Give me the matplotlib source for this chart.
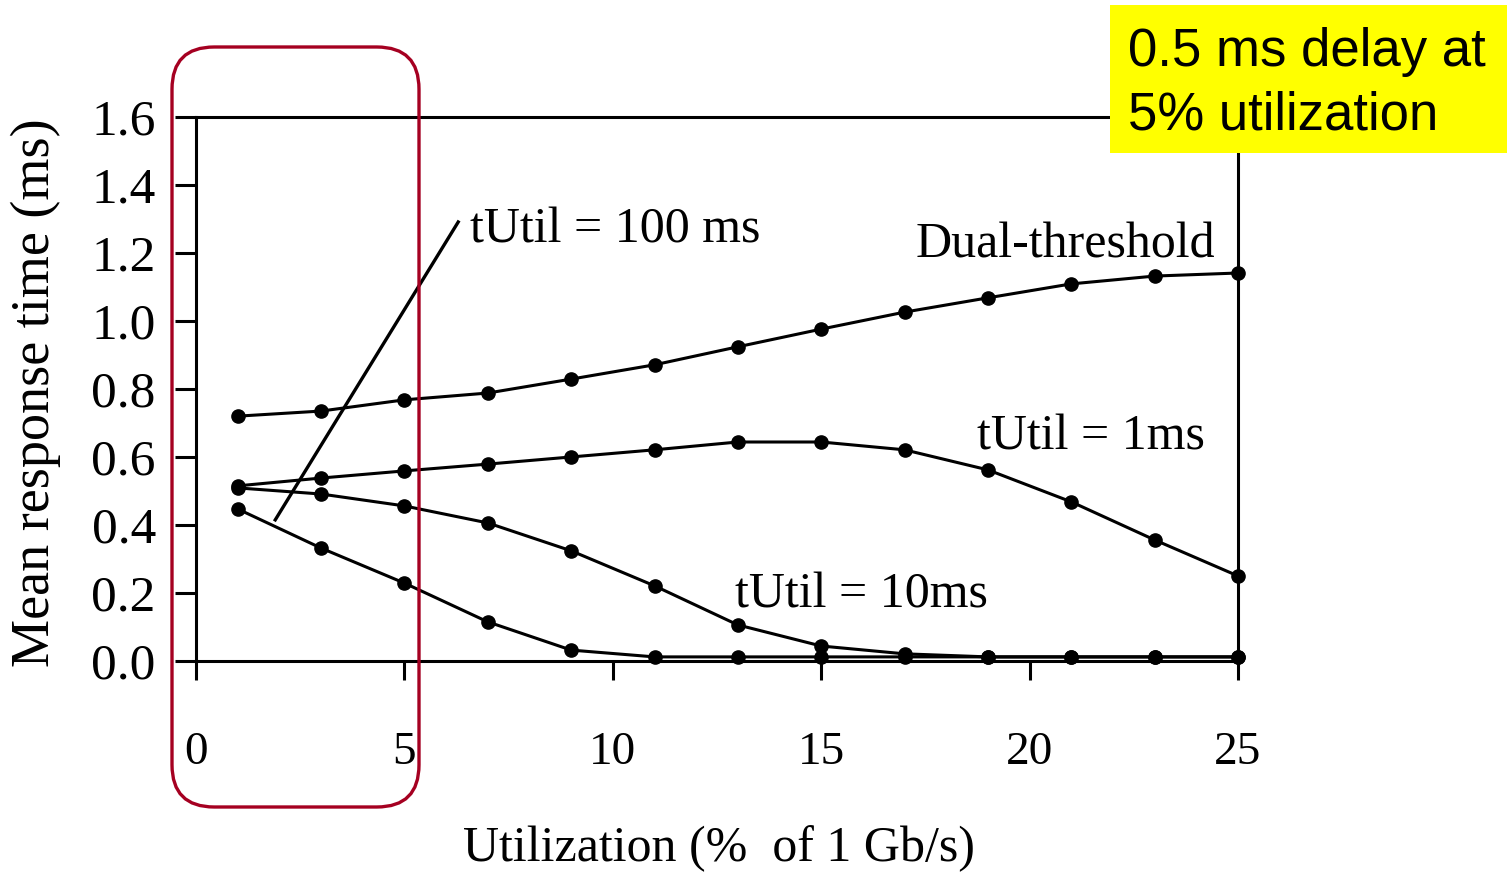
import matplotlib
matplotlib.use("Agg")
import matplotlib.pyplot as plt
from matplotlib.patches import FancyBboxPatch, Rectangle

# utilization (% of 1 Gb/s) and mean response time (ms) per policy
utilization = [1, 3, 5, 7, 9, 11, 13, 15, 17, 19, 21, 23, 25]
dual_threshold = [0.72, 0.735, 0.768, 0.788, 0.829, 0.871, 0.924, 0.976, 1.026, 1.068, 1.109, 1.132, 1.141]
tutil_1ms = [0.515, 0.538, 0.559, 0.579, 0.60, 0.621, 0.644, 0.644, 0.621, 0.562, 0.468, 0.356, 0.25]
tutil_10ms = [0.509, 0.491, 0.456, 0.406, 0.324, 0.221, 0.106, 0.044, 0.021, 0.012, 0.012, 0.012, 0.012]
tutil_100ms = [0.447, 0.332, 0.229, 0.115, 0.032, 0.012, 0.012, 0.012, 0.012, 0.012, 0.012, 0.012, 0.012]

x_ticks = [0, 5, 10, 15, 20, 25]
y_ticks = [0.0, 0.2, 0.4, 0.6, 0.8, 1.0, 1.2, 1.4, 1.6]

serif = "Liberation Serif"
sans = "Liberation Sans"

fig = plt.figure(figsize=(15.07, 8.72), dpi=100)
ax = fig.add_axes([0.1301, 0.2420, 0.6914, 0.6239])

for series in (dual_threshold, tutil_1ms, tutil_10ms, tutil_100ms):
    ax.plot(utilization, series, color="black", lw=2.2, marker="o", ms=9.5, clip_on=False, zorder=3)

ax.set_xlim(0, 25)
ax.set_ylim(0, 1.6)
ax.set_xticks(x_ticks)
ax.set_yticks(y_ticks)
ax.set_yticklabels([f"{v:.1f}" for v in y_ticks])
for side in ("left", "right", "top", "bottom"):
    ax.spines[side].set_linewidth(2.2)
ax.tick_params(axis="x", direction="out", length=14, width=2.2, pad=37, labelsize=34)
ax.tick_params(axis="y", direction="out", length=15, width=2.2, pad=14, labelsize=37)
for lbl in ax.get_xticklabels() + ax.get_yticklabels():
    lbl.set_fontfamily(serif)

# series labels
text_kw = dict(fontsize=36, family=serif, va="center")
ax.plot([1.90, 6.29], [0.415, 1.291], color="black", lw=2.4, zorder=4)
ax.text(6.57, 1.268, "tUtil = 100 ms", ha="left", **text_kw)
ax.text(24.45, 1.224, "Dual-threshold", ha="right", **text_kw)
ax.text(18.74, 0.659, "tUtil = 1ms", ha="left", **text_kw)
ax.text(12.93, 0.194, "tUtil = 10ms", ha="left", **text_kw)

fig.text(0.477, 0.027, "Utilization (%  of 1 Gb/s)", ha="center", va="center",
         fontsize=36, family=serif)
fig.text(0.024, 0.55, "Mean response time (ms)", ha="center", va="center",
         rotation=90, fontsize=39, family=serif)

# highlight around the 0-5 % range
W, H = 1507, 872
hl = FancyBboxPatch((172 / W, (H - 807) / H), 247 / W, 760 / H,
                    boxstyle="round,pad=0,rounding_size=0.028",
                    transform=fig.transFigure, fill=False,
                    edgecolor="#A50021", lw=2.4, zorder=10,
                    mutation_aspect=W / H)
fig.patches.append(hl)

# callout box
box = Rectangle((1110 / W, (H - 153) / H), 397 / W, 148 / H,
                transform=fig.transFigure, facecolor="#FFFF00",
                edgecolor="none", zorder=10)
fig.patches.append(box)
fig.text(1128 / W, 1 - 52 / H, "0.5 ms delay at", ha="left", va="center",
         fontsize=38, family=sans, zorder=11)
fig.text(1128 / W, 1 - 115 / H, "5% utilization", ha="left", va="center",
         fontsize=38, family=sans, zorder=11)

fig.savefig("out.png", dpi=100, facecolor="white")
